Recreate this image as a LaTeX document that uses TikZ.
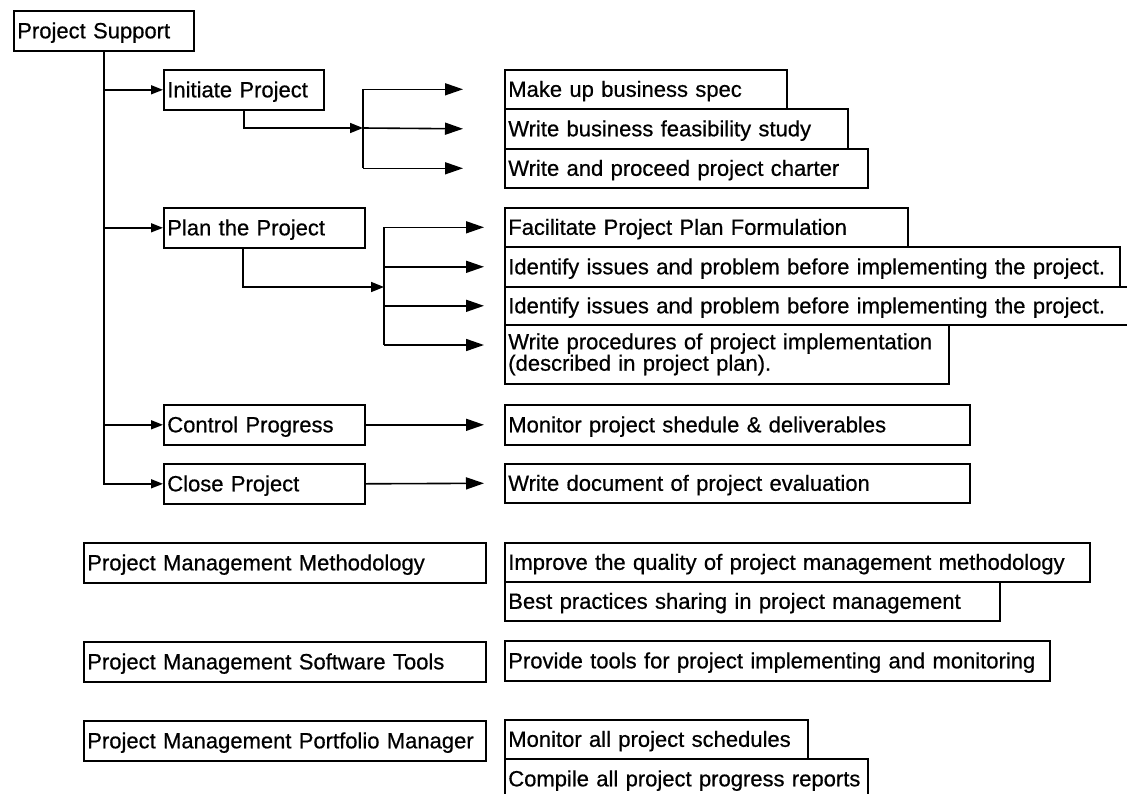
\documentclass[tikz,border=0pt]{standalone}
\usepackage{fontspec}
\setmainfont{Liberation Sans}
\newfontfamily\scanfont{Liberation Sans}[FakeBold=0.6]
\usetikzlibrary{arrows.meta,calc}
\tikzset{
  boxbase/.style={draw, line width=1.6pt, rectangle, anchor=north west,
    inner xsep=3.5pt, inner ysep=0pt, align=left,
    font=\scanfont\fontsize{22}{15.5}\selectfont},
  box/.style={boxbase, text height=15pt, text depth=0pt},
  twoline/.style={boxbase},
  ln/.style={line width=1.6pt},
  arrS/.style={ln, -{Triangle[length=12pt,width=9pt]}},
  arrM/.style={ln, -{Triangle[length=13pt,width=10pt]}},
  arrL/.style={ln, -{Triangle[length=18pt,width=12pt]}},
}
\newcommand{\mybox}[6]{%
  \pgfmathsetmacro\mybw{#4-#2-7}%
  \pgfmathsetmacro\mybh{#5-#3}%
  \node[box, text width=\mybw pt, minimum height=\mybh pt] (#1) at (#2,#3) {#6};}
\begin{document}
\begin{tikzpicture}[x=1pt,y=-1pt]
\useasboundingbox (0,0) rectangle (1127,793);
\fill[white] (0,0) rectangle (1127,793);
% left column
\mybox{ps}{13}{10}{193}{50}{Project Support}
\mybox{init}{163}{69}{323}{109}{Initiate Project}
\mybox{plan}{163}{207}{364}{247}{Plan the Project}
\mybox{ctrl}{163}{404}{364}{444}{Control Progress}
\mybox{close}{163}{463}{364}{503}{Close Project}
% right column
\mybox{mub}{504}{69}{786}{108}{Make up business spec}
\mybox{wbf}{504}{108}{847}{148}{Write business feasibility study}
\mybox{wcp}{504}{148}{867}{187}{Write and proceed project charter}
\mybox{fac}{504}{207}{907}{246}{Facilitate Project Plan Formulation}
\mybox{idA}{504}{246}{1119}{286}{Identify issues and problem before implementing the project.}
\mybox{idB}{504}{286}{1136}{324}{Identify issues and problem before implementing the project.}
\pgfmathsetmacro\mybw{948-504-7}
\node[twoline, text width=\mybw pt, minimum height=59pt] (wp) at (504,324)
  {Write procedures of project implementation\\(described in project plan).};
\mybox{mps}{504}{404}{969}{444}{Monitor project shedule \& deliverables}
\mybox{wde}{504}{463}{969}{502}{Write document of project evaluation}
% lower section
\mybox{pmm}{83}{542}{485}{582}{Project Management Methodology}
\mybox{pmst}{83}{641}{485}{681}{Project Management Software Tools}
\mybox{pmpm}{83}{720}{485}{760}{Project Management Portfolio Manager}
\mybox{imp}{504}{542}{1089}{581}{Improve the quality of project management methodology}
\mybox{best}{504}{581}{999}{620}{Best practices sharing in project management}
\mybox{prov}{504}{640}{1049}{680}{Provide tools for project implementing and monitoring}
\mybox{mall}{504}{719}{807}{758}{Monitor all project schedules}
\mybox{comp}{504}{758}{867}{798}{Compile all project progress reports}
% trunk
\draw[arrS] (ps.south) |- (close.west);
\draw[arrS] (ps.south |- init.west) -- (init.west);
\draw[arrS] (ps.south |- plan.west) -- (plan.west);
\draw[arrS] (ps.south |- ctrl.west) -- (ctrl.west);
% initiate branch
\coordinate (j1) at (363,128);
\draw[arrM] (init.south) |- (j1);
\draw[ln] (j1 |- mub.west) -- (j1 |- wcp.west);
\draw[arrL] (j1 |- mub.west) -- ([xshift=-41pt]mub.west);
\draw[arrL] (j1) -- ([xshift=-41pt]wbf.west);
\draw[arrL] (j1 |- wcp.west) -- ([xshift=-41pt]wcp.west);
% plan branch
\coordinate (pb) at ($(plan.south west)+(80,0)$);
\coordinate (j2) at (384,287);
\coordinate (wpa) at (484,345);
\draw[arrM] (pb) |- (j2);
\draw[ln] (j2 |- fac.west) -- (j2 |- wpa);
\draw[arrL] (j2 |- fac.west) -- ([xshift=-20pt]fac.west);
\draw[arrL] (j2 |- idA.west) -- ([xshift=-20pt]idA.west);
\draw[arrL] (j2 |- idB.west) -- ([xshift=-20pt]idB.west);
\draw[arrL] (j2 |- wpa) -- (wpa);
% control / close
\draw[arrL] (ctrl.east) -- ([xshift=-20pt]mps.west);
\draw[arrL] (close.east) -- ([xshift=-20pt]wde.west);
\end{tikzpicture}
\end{document}
